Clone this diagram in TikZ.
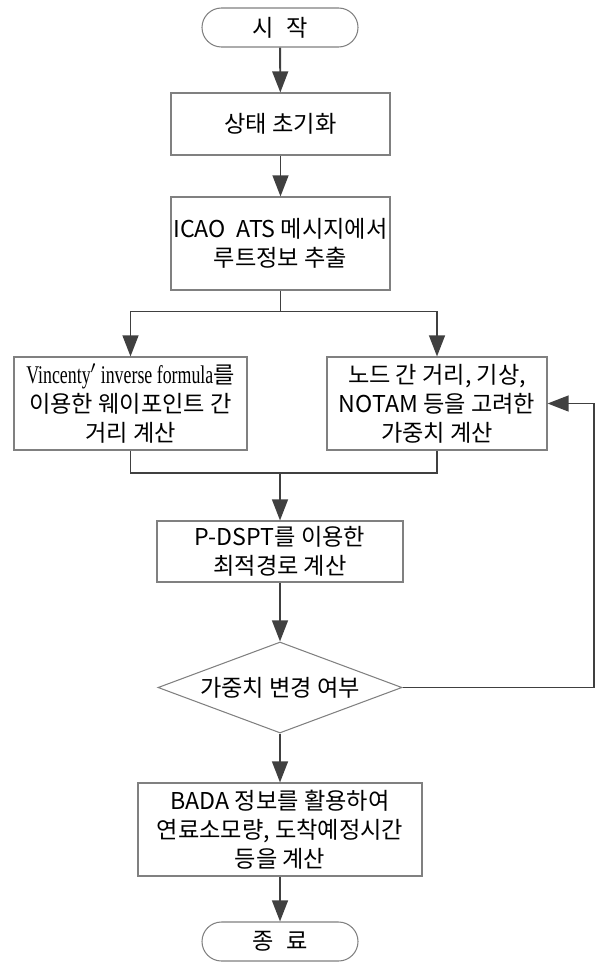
\documentclass[tikz,border=0pt]{standalone}
\usepackage{fontspec}
\setmainfont{Noto Sans CJK KR}
\newfontfamily\narrowserif[FakeStretch=0.7]{Liberation Serif}
\usepackage{tikz}
\usetikzlibrary{shapes,shapes.geometric}
\usetikzlibrary{arrows.meta}
\definecolor{boxline}{RGB}{128,128,128}
\definecolor{flowline}{RGB}{64,64,64}

\begin{document}
\begin{tikzpicture}[font=\fontsize{13.2}{16.5}\selectfont,
	procbox/.style={draw=boxline, line width=0.6pt, align=center, inner sep=0pt},
	termbox/.style={draw=boxline, line width=0.6pt, rounded corners=0.39cm, minimum width=3.12cm, minimum height=0.78cm},
	askbox/.style={draw=boxline, line width=0.6pt, diamond, aspect=2.68, minimum width=4.88cm, minimum height=1.82cm, inner sep=0pt},
	flow/.style={draw=flowline, line width=1.1pt},
	arr/.style={flow, -{Triangle[length=12pt,width=9pt]}}]
			\useasboundingbox (0,0) rectangle (11.92,-19.26);
			% terminals and steps
			\node[termbox] (start) at (5.6,-0.55) {시\;\;작};
			\node[procbox, minimum width=4.38cm, minimum height=1.24cm] (init) at (5.61,-2.48) {상태 초기화};
			\node[procbox, minimum width=4.38cm, minimum height=1.86cm] (icao) at (5.61,-4.87) {ICAO\ \ ATS 메시지에서\\루트정보 추출};
			\node[procbox, minimum width=4.66cm, minimum height=1.86cm] (vin) at (2.61,-8.07) {{\narrowserif\fontsize{14.5}{16.5}\selectfont Vincenty$'$ inverse formula}를\\이용한 웨이포인트 간\\거리 계산};
			\node[procbox, minimum width=4.40cm, minimum height=1.86cm] (wgt) at (8.74,-8.07) {노드 간 거리, 기상,\\NOTAM 등을 고려한\\가중치 계산};
			\node[procbox, minimum width=4.92cm, minimum height=1.22cm] (dspt) at (5.6,-11.03) {P-DSPT를 이용한\\최적경로 계산};
			\node[askbox] (dec) at (5.6,-13.75) {가중치 변경 여부};
			\node[procbox, minimum width=5.68cm, minimum height=1.86cm] (bada) at (5.6,-16.59) {BADA 정보를 활용하여\\연료소모량, 도착예정시간\\등을 계산};
			\node[termbox] (end) at (5.6,-18.83) {종\;\;료};
			% connectors
			\coordinate (mg) at (5.6,-9.46);
			\coordinate (fb) at (11.88,-13.75);
			\draw[arr] (start) -- (init);
			\draw[arr] (init) -- (icao);
			\draw[flow] (icao.south) -- ++(0,-0.42) coordinate (sp);
			\draw[arr] (sp) -| (vin.north);
			\draw[arr] (sp) -| (wgt.north);
			\draw[flow] (vin.south) |- (mg) -| (wgt.south);
			\draw[arr] (mg) -- (dspt.north);
			\draw[arr] (dspt) -- (dec);
			\draw[arr] (dec.east) -- (fb) |- (wgt.east);
			\draw[arr] (dec) -- (bada);
			\draw[arr] (bada) -- (end);
		\end{tikzpicture}
\end{document}
